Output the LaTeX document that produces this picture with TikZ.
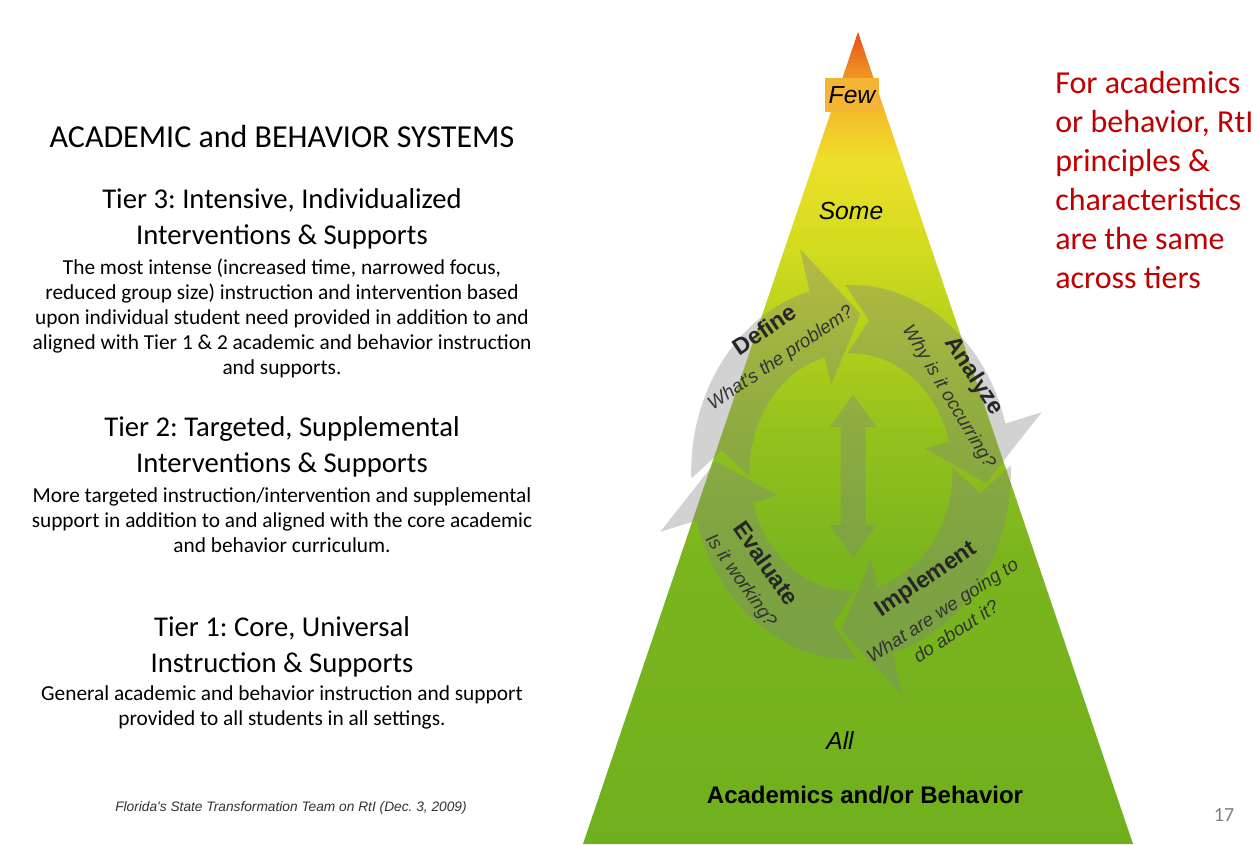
\documentclass[tikz,border=0pt]{standalone}
\usepackage{fontspec}
\setmainfont{Carlito}
\newfontfamily\arialfont{Liberation Sans}
\usetikzlibrary{positioning}
\frenchspacing

\definecolor{notered}{HTML}{C00000}
\definecolor{fewgold}{HTML}{F3B533}
\definecolor{ringgray}{HTML}{838383}
\definecolor{pagegray}{HTML}{7F7F7F}
\definecolor{pyrA}{HTML}{70B01E}
\definecolor{pyrB}{HTML}{7AB51E}
\definecolor{pyrC}{HTML}{94C21D}
\definecolor{pyrD}{HTML}{B5D11C}
\definecolor{pyrE}{HTML}{D5DC1F}
\definecolor{pyrF}{HTML}{EEDF2A}
\definecolor{pyrG}{HTML}{F3BC2B}
\definecolor{pyrH}{HTML}{EE8C22}
\definecolor{pyrI}{HTML}{E54E1A}
\pgfdeclareverticalshading{pyramid}{100bp}{color(0bp)=(pyrA); color(25bp)=(pyrA); color(42.5bp)=(pyrB); color(50.5bp)=(pyrC); color(56.7bp)=(pyrD); color(62.2bp)=(pyrE); color(67.1bp)=(pyrF); color(70.2bp)=(pyrG); color(72.7bp)=(pyrH); color(75bp)=(pyrI); color(100bp)=(pyrI)}

\tikzset{sysbox/.style={inner sep=0pt, align=center, font=\fontsize{24}{29}\selectfont}}
\tikzset{tierhead/.style={inner sep=0pt, align=center, font=\fontsize{21.5}{27}\selectfont}}
\tikzset{tierbody/.style={inner sep=0pt, align=center, font=\fontsize{16}{18.75}\selectfont}}
\tikzset{tiernote/.style={inner sep=0pt, align=left, anchor=west, text=notered, font=\fontsize{24}{29.25}\selectfont}}
\tikzset{tierlevel/.style={inner sep=0pt, font=\arialfont\itshape\fontsize{18.5}{22}\selectfont}}
\tikzset{stagename/.style={inner sep=0pt, text=black!85, font=\arialfont\bfseries\fontsize{17.5}{21}\selectfont}}
\tikzset{stageq/.style={inner sep=0pt, align=center, text=black!80, font=\arialfont\itshape\fontsize{14}{18.75}\selectfont}}

\begin{document}
\begin{tikzpicture}[x=0.75pt,y=0.75pt]
   \fill[white] (0,0) rectangle (1259,844);
   \useasboundingbox (0,0) rectangle (1259,844);

   % left column
   \node[sysbox] (sys) at (282,707) {ACADEMIC and BEHAVIOR SYSTEMS};
   \node[tierhead] (t3head) at (282,625) {Tier 3: Intensive, Individualized\\Interventions \& Supports};
   \node[tierbody] (t3body) at (282,526) {The most intense (increased time, narrowed focus,\\
      reduced group size) instruction and intervention based\\
      upon individual student need provided in addition to and\\
      aligned with Tier 1 \& 2 academic and behavior instruction\\
      and supports.};
   \node[tierhead] (t2head) at (282,397) {Tier 2: Targeted, Supplemental\\Interventions \& Supports};
   \node[tierbody] (t2body) at (282,324) {More targeted instruction/intervention and supplemental\\
      support in addition to and aligned with the core academic\\
      and behavior curriculum.};
   \node[tierhead] (t1head) at (282,197) {Tier 1: Core, Universal\\Instruction \& Supports};
   \node[tierbody] (t1body) at (282,137) {General academic and behavior instruction and support\\
      provided to all students in all settings.};
   \node[inner sep=0pt, text=black!80, font=\arialfont\itshape\fontsize{10.3}{12}\selectfont] (src) at (291,36)
      {Florida's State Transformation Team on RtI (Dec. 3, 2009)};

   % pyramid
   \coordinate (apex) at (858,812);
   \coordinate (baseL) at (583,0);
   \coordinate (baseR) at (1133,0);
   \shade[shading=pyramid] (baseL) -- (apex) -- (baseR) -- cycle;

   % problem solving cycle
   \begin{scope}[transparency group, opacity=0.36]
      \begin{scope}[shift={(851,372)}, xscale=0.94, yscale=1.1]
         \fill[ringgray] (182:170) arc[start angle=182, end angle=105, radius=170] -- (105:210) -- (86:144)
            -- (105:82) -- (105:108) arc[start angle=105, end angle=182, radius=108] -- (172:139) -- cycle;
         \fill[ringgray] (92:170) arc[start angle=92, end angle=15, radius=170] -- (15:210) -- (-4:144)
            -- (15:82) -- (15:108) arc[start angle=15, end angle=92, radius=108] -- (82:139) -- cycle;
         \fill[ringgray] (2:170) arc[start angle=2, end angle=-75, radius=170] -- (-75:210) -- (-94:144)
            -- (-75:82) -- (-75:108) arc[start angle=-75, end angle=2, radius=108] -- (-8:139) -- cycle;
         \fill[ringgray] (-88:170) arc[start angle=-88, end angle=-165, radius=170] -- (-165:210) -- (-184:144)
            -- (-165:82) -- (-165:108) arc[start angle=-165, end angle=-88, radius=108] -- (-98:139) -- cycle;
      \end{scope}
      \fill[ringgray] (853,449) -- (876.5,417) -- (865.5,417) -- (865.5,319) -- (876.5,319) -- (853,287)
         -- (829.5,319) -- (840.5,319) -- (840.5,417) -- (829.5,417) -- cycle;
   \end{scope}

   \node[stagename, rotate=34] (define) at (764.3,514.5) {Define};
   \node[stageq, rotate=34] (defineq) at (781,485.3) {What's the problem?};
   \node[stagename, rotate=-57] (analyze) at (973.5,467.6) {Analyze};
   \node[stageq, rotate=-59] (analyzeq) at (948.3,446.9) {Why is it occurring?};
   \node[stagename, rotate=-55] (evaluate) at (766.5,280.7) {Evaluate};
   \node[stageq, rotate=-55] (evaluateq) at (740.4,262.9) {Is it working?};
   \node[stagename, rotate=34] (implement) at (926.3,264.5) {Implement};
   \node[stageq, rotate=33] (implementq) at (949,223.3) {What are we going to\\do about it?};

   % tiers on the pyramid
   \node[fill=fewgold, tierlevel, minimum width=41pt, minimum height=25pt] (few) at (852,749) {Few};
   \node[tierlevel] (some) at (851,633) {Some};
   \node[tierlevel] (all) at (840,103) {All};
   \node[inner sep=0pt, font=\arialfont\bfseries\fontsize{18}{22}\selectfont] (domain) at (865,49) {Academics and/or Behavior};

   % right column
   \node[tiernote] (note) at (1055,664) {For academics\\or behavior, RtI\\principles \&\\characteristics\\are the same\\across tiers};
   \node[inner sep=0pt, text=pagegray, font=\fontsize{15}{18}\selectfont] (pagenum) at (1224,29) {17};
\end{tikzpicture}
\end{document}
